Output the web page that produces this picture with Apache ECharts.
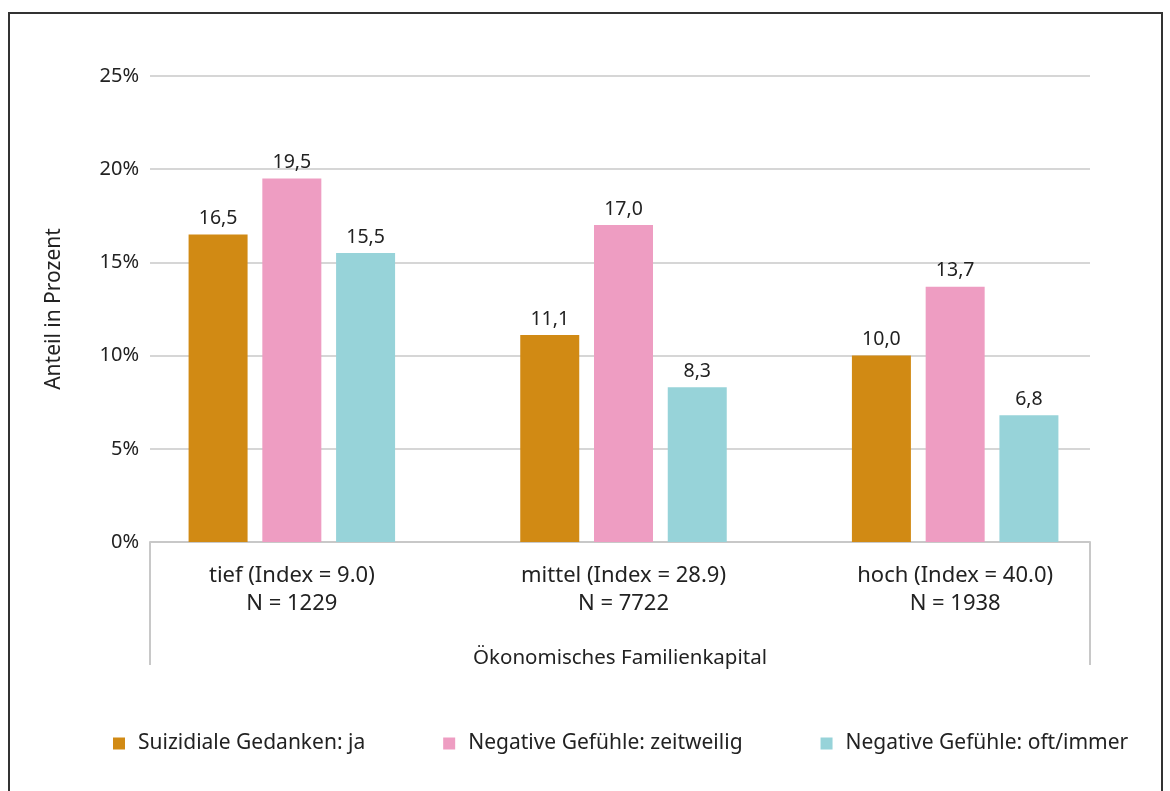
<!DOCTYPE html>
<html>
<head>
<meta charset="utf-8">
<script src="https://cdn.jsdelivr.net/npm/echarts@6/dist/echarts.min.js"></script>
<style>
html,body{margin:0;padding:0;background:#fff;}
#wrap{position:relative;width:1170px;height:791px;overflow:hidden;}
#chart{width:1170px;height:791px;}
#frame{position:absolute;left:8px;top:12px;width:1155px;height:900px;border:2px solid #333;box-sizing:border-box;pointer-events:none;}
</style>
</head>
<body>
<div id="wrap"><div id="chart"></div><div id="frame"></div></div>
<script>
const categories = ['tief (Index = 9.0)\nN = 1229', 'mittel (Index = 28.9)\nN = 7722', 'hoch (Index = 40.0)\nN = 1938'];
const seriesNames = ['Suizidiale Gedanken: ja', 'Negative Gefühle: zeitweilig', 'Negative Gefühle: oft/immer'];
const suizidialJa = [16.5, 11.1, 10.0];
const negZeitweilig = [19.5, 17.0, 13.7];
const negOftImmer = [15.5, 8.3, 6.8];
const colors = ['#D18A14', '#EE9DC2', '#97D3D9'];
const yTicks = [0, 5, 10, 15, 20, 25];

const FONT = 'Noto Sans';
const TXT = '#222';
const values = [suizidialJa, negZeitweilig, negOftImmer];

const chart = echarts.init(document.getElementById('chart'));
chart.setOption({
  backgroundColor: '#fff',
  textStyle: { fontFamily: FONT, color: TXT },
  animation: false,
  color: colors,
  legend: {
    left: 113, top: 733, padding: 0,
    itemWidth: 12, itemHeight: 12, itemGap: 78,
    icon: 'rect',
    textStyle: { fontFamily: FONT, fontSize: 21, color: TXT, padding: [0, 0, 0, 8] },
    data: seriesNames
  },
  grid: [
    { left: 150, right: 80, top: 76, bottom: 249 },
    { left: 126, right: 49, top: 76, bottom: 249 }
  ],
  xAxis: [
    {
      gridIndex: 0, type: 'category', data: [''],
      axisLine: { show: true, lineStyle: { color: '#c8c8c8', width: 2 } },
      axisTick: { show: true, length: 123, lineStyle: { color: '#c8c8c8', width: 2 } },
      axisLabel: { show: false },
      name: 'Ökonomisches Familienkapital', nameLocation: 'middle', nameGap: 106,
      nameTextStyle: { fontFamily: FONT, fontSize: 20.5, color: TXT }
    },
    {
      gridIndex: 1, type: 'category', data: categories,
      axisLine: { show: false }, axisTick: { show: false },
      axisLabel: { fontFamily: FONT, fontSize: 22, color: TXT, lineHeight: 28, margin: 20 }
    }
  ],
  yAxis: [
    {
      gridIndex: 0, type: 'value', min: yTicks[0], max: yTicks[yTicks.length - 1], interval: 5,
      axisLine: { show: false }, axisTick: { show: false },
      axisLabel: { formatter: '{value}%', fontFamily: FONT, fontSize: 20, color: TXT, margin: 11 },
      splitLine: { lineStyle: { color: '#c8c8c8', width: 1.5 } },
      name: 'Anteil in Prozent', nameLocation: 'middle', nameGap: 85, nameRotate: 90,
      nameTextStyle: { fontFamily: FONT, fontSize: 21, color: TXT }
    },
    {
      gridIndex: 1, type: 'value', min: yTicks[0], max: yTicks[yTicks.length - 1], interval: 5,
      show: false, splitLine: { show: false }
    }
  ],
  series: seriesNames.map((n, i) => ({
    name: n, type: 'bar', xAxisIndex: 1, yAxisIndex: 1,
    data: values[i], barWidth: 59, barGap: '25%',
    itemStyle: { color: colors[i] },
    label: {
      show: true, position: 'top', distance: 6,
      fontFamily: FONT, fontSize: 19.5, color: TXT,
      formatter: p => p.value.toFixed(1).replace('.', ',')
    }
  }))
});
</script>
</body>
</html>
